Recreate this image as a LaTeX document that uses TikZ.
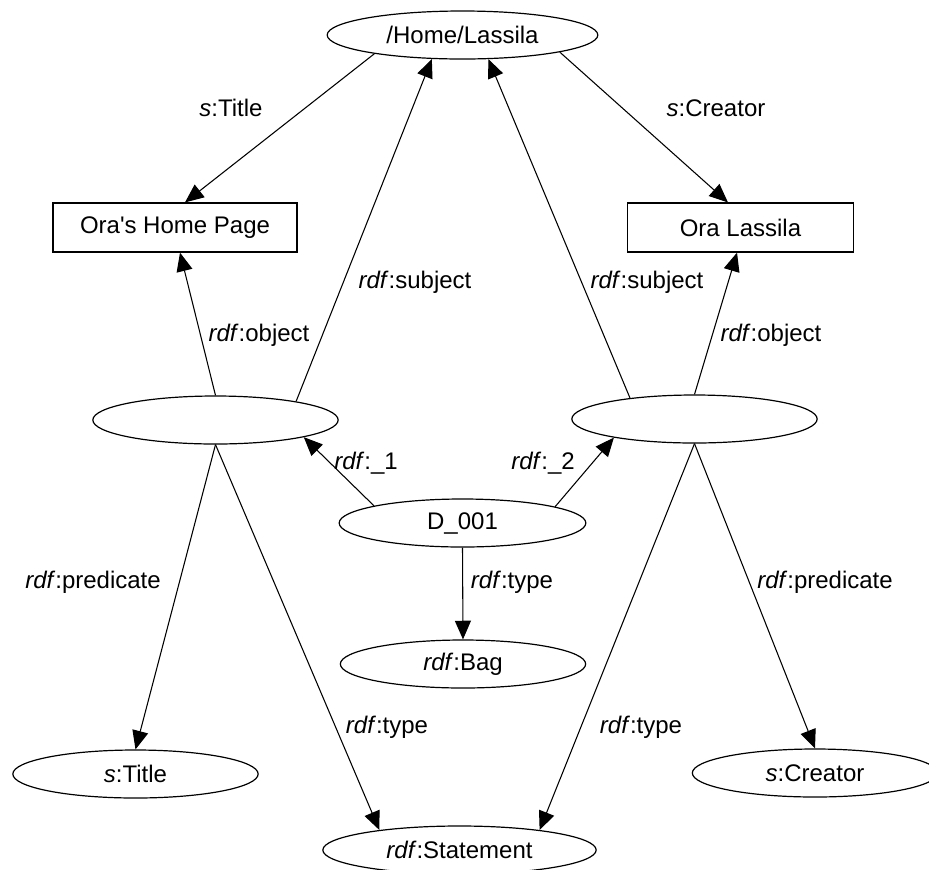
\documentclass[tikz,border=0pt]{standalone}
\usepackage{fontspec}
\setmainfont{Liberation Sans}
\usetikzlibrary{shapes.geometric,arrows.meta}

\tikzset{
  res/.style={ellipse, draw, line width=0.9pt, inner sep=0pt, minimum width=184pt, minimum height=36pt},
  lit/.style={rectangle, draw, line width=0.9pt, inner sep=0pt, minimum height=36.75pt},
  prop/.style={-{Triangle[length=14pt,width=12pt]}, line width=0.8pt},
  lbl/.style={inner sep=0pt}
}

\begin{document}
\begin{tikzpicture}[x=0.75pt, y=-0.75pt, font=\fontsize{18}{21}\selectfont]
    \useasboundingbox (0,0) rectangle (929,869);
    \clip (0,0) rectangle (929,869);

    % resources and literals
    \node [res, minimum width=203pt] (home) at (462.5,35) {/Home/Lassila};
    \node [lit, minimum width=183pt] (homepage) at (175,227.5) {Ora\textquotesingle s Home Page};
    \node [lit, minimum width=169pt] (oralassila) at (740.5,227.5) {Ora Lassila};

    \node [res] (lstmt) at (215.5,420) {};
    \node [res] (rstmt) at (694.5,419) {};
    \node [res, minimum width=185pt] (bag) at (462.5,523) {D\_001};
    \node [res] (bagtype) at (463,664) {\textit{rdf}:Bag};

    \node [res] (stitle) at (135.5,774) {\textit{s}:Title};
    \node [res, minimum width=205pt] (statement) at (459.5,850) {\textit{rdf}:Statement};
    \node [res] (screator) at (815,773) {\textit{s}:Creator};

    % properties
    \draw [prop] (home.192) -- ([xshift=7.5pt]homepage.north);
    \draw [prop] (home.350) -- ([xshift=-9.4pt]oralassila.north);
    \draw [prop] (lstmt.north) -- ([xshift=3.75pt]homepage.south);
    \draw [prop] (lstmt.13) -- (home.218);
    \draw [prop] (rstmt.162) -- (home.317);
    \draw [prop] (rstmt.north) -- ([xshift=-2.6pt]oralassila.south);
    \draw [prop] (bag.169) -- (lstmt.349);
    \draw [prop] (bag.10) -- (rstmt.193);
    \draw [prop] (bag.south) -- (bagtype.north);
    \draw [prop] (lstmt.south) -- (stitle.north);
    \draw [prop] (lstmt.south) -- (statement.166);
    \draw [prop] (rstmt.south) -- (statement.14);
    \draw [prop] (rstmt.south) -- (screator.north);

    % property names
    \node [lbl] (l-title) at (231,108) {\textit{s}:Title};
    \node [lbl] (l-creator) at (716,108) {\textit{s}:Creator};
    \node [lbl] (l-lobj) at (259,335) {\textit{rdf}:object};
    \node [lbl] (l-lsubj) at (415,282) {\textit{rdf}:subject};
    \node [lbl] (l-rsubj) at (647,282) {\textit{rdf}:subject};
    \node [lbl] (l-robj) at (771,335) {\textit{rdf}:object};
    \node [lbl] (l-one) at (366,463) {\textit{rdf}:\_1};
    \node [lbl] (l-two) at (543,463) {\textit{rdf}:\_2};
    \node [lbl] (l-bagtype) at (512,582) {\textit{rdf}:type};
    \node [lbl] (l-lpred) at (93,582) {\textit{rdf}:predicate};
    \node [lbl] (l-ltype) at (387,727) {\textit{rdf}:type};
    \node [lbl] (l-rtype) at (641,727) {\textit{rdf}:type};
    \node [lbl] (l-rpred) at (825,582) {\textit{rdf}:predicate};
\end{tikzpicture}
\end{document}
